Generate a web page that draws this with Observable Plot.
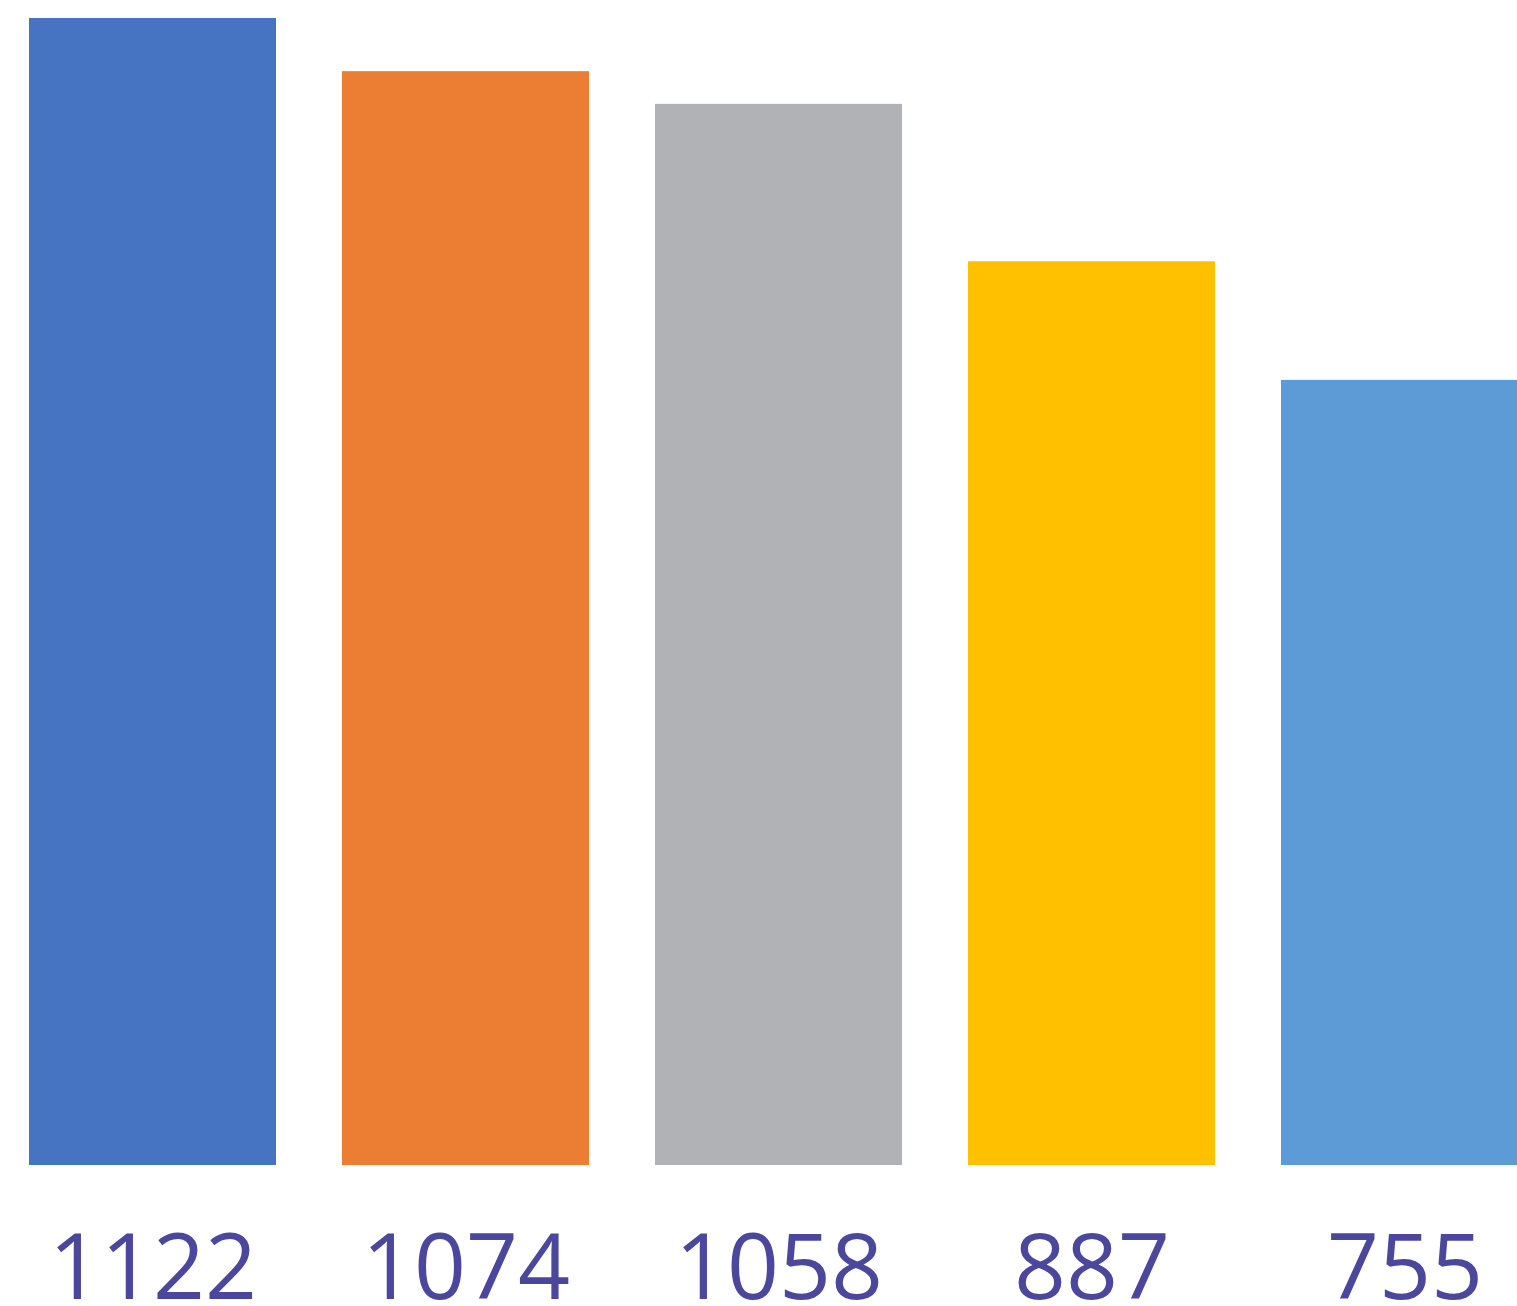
<!DOCTYPE html>
<html>
<head>
<meta charset="utf-8">
<script src="https://cdn.jsdelivr.net/npm/d3@7"></script>
<script src="https://cdn.jsdelivr.net/npm/@observablehq/plot@0.6"></script>
<style>
  html, body { margin: 0; padding: 0; background: #fff; overflow: hidden; }
  #chart svg { display: block; }
</style>
</head>
<body>
<div id="chart"></div>
<script>
const categories = ["c1", "c2", "c3", "c4", "c5"];
const labels = ["1122", "1074", "1058", "887", "755"];
// bar heights as drawn in the picture (same units as the labels)
const barHeights = [1122, 1070, 1038, 884, 768];
const colors = ["#4674C3", "#EC7E33", "#B1B2B5", "#FFC000", "#5C9BD6"];

const data = categories.map((c, i) => ({cat: c, h: barHeights[i], label: labels[i]}));

const chart = Plot.plot({
  width: 1517,
  height: 1306,
  marginTop: 18,
  marginBottom: 141,
  marginLeft: 0,
  marginRight: 0,
  style: {background: "#fff", overflow: "hidden"},
  x: {domain: categories, range: [-5.25, 1562.25], paddingInner: 0.212, paddingOuter: 0.106, axis: null},
  y: {domain: [0, 1122], axis: null},
  color: {domain: categories, range: colors},
  marks: [
    Plot.barY(data, {x: "cat", y: "h", fill: "cat"}),
    Plot.text(data, {
      x: "cat",
      frameAnchor: "bottom",
      dy: 133,
      text: "label",
      fontSize: 91,
      fontFamily: "Open Sans",
      fill: "#4A479C"
    })
  ]
});
document.getElementById("chart").appendChild(chart);
</script>
</body>
</html>
